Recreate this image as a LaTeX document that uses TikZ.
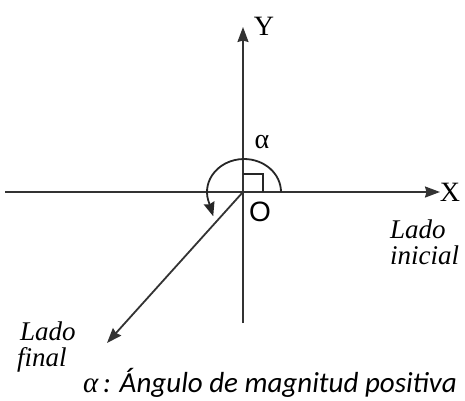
\documentclass[tikz,border=0pt]{standalone}
\usepackage{fontspec}
\setmainfont{Liberation Serif}
\setsansfont{Liberation Sans}
\newfontfamily\calib{Carlito}
\newfontfamily\greekit{Liberation Serif}
\usetikzlibrary{arrows.meta}
\begin{document}
\begin{tikzpicture}[x=1pt,y=-1pt,
  axis/.style={line width=1.8pt,draw=black!80,-{Stealth[length=15pt,width=11pt,inset=1.5pt]}},
  lbl/.style={inner sep=0pt,font=\fontsize{28}{28}\selectfont},
  ital/.style={inner sep=0pt,font=\fontsize{27}{27}\selectfont\itshape,anchor=base west}]
\useasboundingbox[fill=white] (0,0) rectangle (465,400);
\coordinate (O) at (243,192);
\coordinate (xl) at (5,192);
\coordinate (xr) at (440,192);
\coordinate (yb) at (243,323);
\coordinate (yt) at (243,27);
\coordinate (term) at (107,343);
\draw[axis] (xl) -- (xr);
\draw[axis] (yb) -- (yt);
\draw[axis] (O) -- (term);
% right angle mark
\draw[line width=1.6pt,draw=black!85] ([yshift=18pt]O) -| ([xshift=20pt]O);
% angle arc
\draw[line width=1.8pt,draw=black!85,-{Stealth[length=14pt,width=11pt,inset=1.5pt]}]
  ([xshift=38pt]O) arc[start angle=0,end angle=200,x radius=37pt,y radius=33pt] -- ++(4,13);
\node[lbl] (Y) at (264,26) {Y};
\node[lbl] (X) at (450,192) {X};
\node[lbl] (al) at (262,142) {α};
\node[lbl,font=\fontsize{28}{28}\sffamily] (Ol) at (260,212) {O};
\node[ital] (li1) at (390,238) {Lado};
\node[ital] (li2) at (390,264) {inicial};
\node[ital] (lf1) at (20,340) {Lado};
\node[ital] (lf2) at (17,366) {final};
\node[inner sep=0pt,anchor=base,font=\fontsize{29}{29}\calib\itshape] (cap) at (270,392) {{\greekit\itshape α}\,: Ángulo de magnitud positiva};
\end{tikzpicture}
\end{document}
